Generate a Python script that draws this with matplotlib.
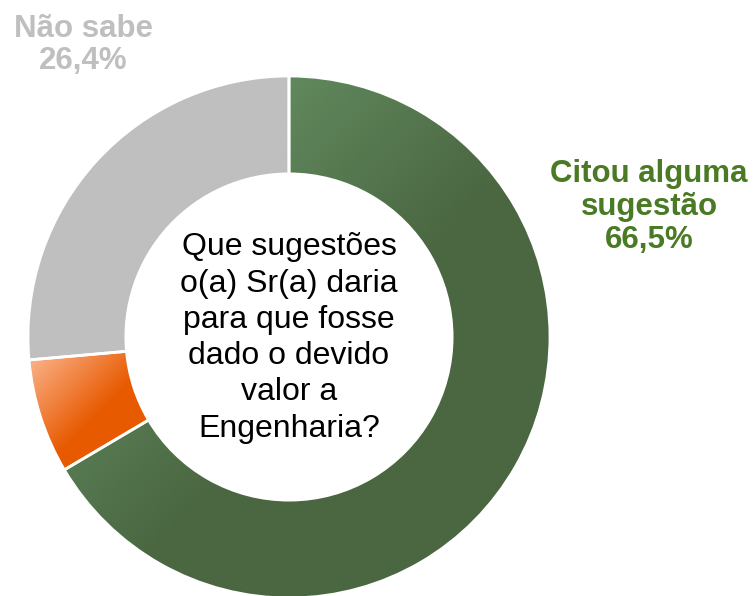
import numpy as np
import matplotlib
matplotlib.use("Agg")
import matplotlib.pyplot as plt
from matplotlib.patches import PathPatch

plt.rcParams['font.family'] = ['Liberation Sans', 'DejaVu Sans']

# Survey answers (percent), drawn clockwise from 12 o'clock
categories = ["Citou alguma sugestão", "Outros", "Não sabe"]
shares = [66.5, 7.1, 26.4]
base_colors = ["#4a6741", "#e85a00", "#bfbfbf"]
light_colors = ["#72a072", "#fcb894", "#bfbfbf"]

fig = plt.figure(figsize=(7.55, 5.96), dpi=100)
ax = fig.add_axes([0, 0, 1, 1])

cx, cy, r = 289, 259, 261
wedges, _ = ax.pie(shares, colors=base_colors, startangle=90, counterclock=False,
                   radius=r, center=(cx, cy),
                   wedgeprops=dict(width=r * 0.375, edgecolor="white", linewidth=0))

def hex_rgb(h):
    return np.array([int(h[i:i + 2], 16) for i in (1, 3, 5)]) / 255.0

# diagonal light-to-dark fill, lightest at the top-left of each wedge
n = 200
u, v = np.meshgrid(np.linspace(0, 1, n), np.linspace(0, 1, n))
t = np.clip((u + v) / 2 / 0.55, 0, 1)[..., None]
for w, base, light in zip(wedges, base_colors, light_colors):
    path = w.get_path()
    bb = path.get_extents()
    img = hex_rgb(light) * (1 - t) + hex_rgb(base) * t
    im = ax.imshow(img, extent=(bb.x0, bb.x1, bb.y0, bb.y1), origin="upper",
                   interpolation="bilinear", zorder=2)
    im.set_clip_path(w)
    ax.add_patch(PathPatch(path, facecolor="none", edgecolor="white", lw=2, zorder=3))

ax.text(cx, cy - 1, "Que sugestões\no(a) Sr(a) daria\npara que fosse\ndado o devido\nvalor a\nEngenharia?",
        ha="center", va="center", fontsize=23, color="black", linespacing=1.27, zorder=4)

ax.text(649, 596 - 207, f"Citou alguma\nsugestão\n{shares[0]:.1f}%".replace(".", ","),
        ha="center", va="center", fontsize=22.5, fontweight="bold", color="#4a7a24",
        linespacing=1.13)
ax.text(83, 596 - 45, f"Não sabe\n{shares[2]:.1f}%".replace(".", ","),
        ha="center", va="center", fontsize=22.5, fontweight="bold", color="#bfbfbf",
        linespacing=1.13)

ax.set_xlim(0, 755)
ax.set_ylim(0, 596)
ax.set_aspect("equal")
ax.axis("off")

fig.savefig("out.png", dpi=100)
